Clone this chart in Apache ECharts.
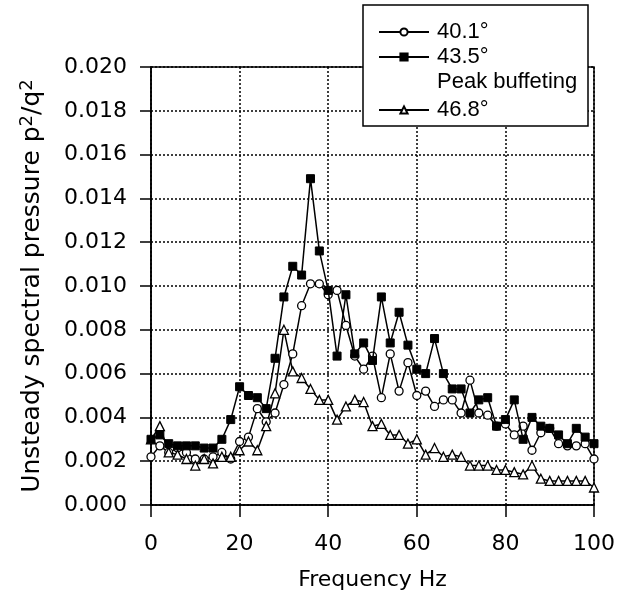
<!DOCTYPE html>
<html>
<head>
<meta charset="utf-8">
<script src="https://cdn.jsdelivr.net/npm/echarts@6/dist/echarts.min.js"></script>
<style>html,body{margin:0;padding:0;background:#fff}#c{width:618px;height:600px}</style>
</head>
<body>
<div id="c"></div>
<script>
var freq = [0,2,4,6,8,10,12,14,16,18,20,22,24,26,28,30,32,34,36,38,40,42,44,46,48,50,52,54,56,58,60,62,64,66,68,70,72,74,76,78,80,82,84,86,88,90,92,94,96,98,100];
var s401 = [0.0022,0.0027,0.0024,0.0026,0.0024,0.0021,0.0021,0.0022,0.0024,0.0021,0.0029,0.0031,0.0044,0.0038,0.0042,0.0055,0.0069,0.0091,0.0101,0.0101,0.0096,0.0098,0.0082,0.0068,0.0062,0.0068,0.0049,0.0069,0.0052,0.0065,0.0050,0.0052,0.0045,0.0048,0.0048,0.0042,0.0057,0.0042,0.0041,0.0036,0.0037,0.0032,0.0036,0.0025,0.0033,0.0035,0.0028,0.0027,0.0027,0.0028,0.0021];
var s435 = [0.0030,0.0032,0.0028,0.0027,0.0027,0.0027,0.0026,0.0026,0.0030,0.0039,0.0054,0.0050,0.0049,0.0044,0.0067,0.0095,0.0109,0.0105,0.0149,0.0116,0.0098,0.0068,0.0096,0.0069,0.0074,0.0066,0.0095,0.0074,0.0088,0.0073,0.0062,0.0060,0.0076,0.0060,0.0053,0.0053,0.0042,0.0048,0.0049,0.0036,0.0039,0.0048,0.0030,0.0040,0.0036,0.0035,0.0032,0.0028,0.0035,0.0031,0.0028];
var s468 = [0.0030,0.0036,0.0024,0.0023,0.0021,0.0018,0.0021,0.0019,0.0022,0.0022,0.0025,0.0029,0.0025,0.0036,0.0051,0.0080,0.0061,0.0058,0.0053,0.0048,0.0048,0.0039,0.0045,0.0048,0.0047,0.0036,0.0037,0.0032,0.0032,0.0028,0.0030,0.0023,0.0026,0.0022,0.0023,0.0022,0.0018,0.0018,0.0018,0.0016,0.0016,0.0015,0.0014,0.0018,0.0012,0.0011,0.0011,0.0011,0.0011,0.0011,0.0008];
var names = ['40.1°', '43.5°', '46.8°'];
var legendNote = 'Peak buffeting';
var xTitle = 'Frequency Hz';
var yTitleMain = 'Unsteady spectral pressure p';

function pairs(vals){ return freq.map(function(f,i){ return [f, vals[i]]; }); }

var chart = echarts.init(document.getElementById('c'), null, {renderer:'canvas'});
var axisFont = 'DejaVu Sans';
var line = {color:'#000', width:1.5};
chart.setOption({
  animation:false,
  backgroundColor:'#fff',
  grid:{left:151, right:22, top:67, bottom:95, show:true, borderColor:'#000', borderWidth:1.5, backgroundColor:'transparent'},
  xAxis:{
    type:'value', min:0, max:100, interval:20,
    axisLine:{show:true, onZero:false, lineStyle:line},
    axisTick:{show:true, inside:false, length:12, lineStyle:line},
    axisLabel:{color:'#000', fontFamily:axisFont, fontSize:22, margin:28},
    splitLine:{show:true, lineStyle:{color:'#000', width:1.5, type:[2,2]}},
    name:xTitle, nameLocation:'middle', nameGap:64,
    nameTextStyle:{color:'#000', fontFamily:axisFont, fontSize:22}
  },
  yAxis:{
    type:'value', min:0, max:0.020, interval:0.002,
    axisLine:{show:true, onZero:false, lineStyle:line},
    axisTick:{show:true, inside:false, length:11, lineStyle:line},
    axisLabel:{color:'#000', fontFamily:axisFont, fontSize:22, margin:24, formatter:function(v){return v.toFixed(3);}},
    splitLine:{show:true, lineStyle:{color:'#000', width:1.5, type:[2,2]}},
    name:'{a|' + yTitleMain + '}{s|2}{a|/q}{s|2}', nameLocation:'middle', nameGap:104,
    nameTextStyle:{color:'#000', fontFamily:axisFont, fontSize:25,
      rich:{a:{fontFamily:axisFont, fontSize:25, color:'#000'}, s:{fontFamily:axisFont, fontSize:18, color:'#000', padding:[0,0,11,0]}}}
  },
  graphic:[
    {type:'rect', z:100, shape:{x:363, y:5, width:225, height:121}, style:{fill:'#fff', stroke:'#000', lineWidth:1.5}},
    {type:'text', z:101, style:{x:437, y:82, text:legendNote, fontFamily:'Liberation Sans', fontSize:22, fill:'#000', verticalAlign:'middle'}}
  ],
  legend:[
    {orient:'vertical', left:373, top:16, z:110, itemWidth:50, itemHeight:9, itemGap:3, data:[names[0], names[1]],
     textStyle:{color:'#000', fontFamily:'Liberation Sans', fontSize:22, lineHeight:22, padding:[0,0,0,3]}, selectedMode:false},
    {orient:'vertical', left:373, top:94, z:110, itemWidth:50, itemHeight:9, data:[names[2]],
     textStyle:{color:'#000', fontFamily:'Liberation Sans', fontSize:22, lineHeight:22, padding:[0,0,0,3]}, selectedMode:false}
  ],
  series:[
    {name:names[0], type:'line', data:pairs(s401), symbol:'circle', symbolSize:8, lineStyle:line,
     itemStyle:{color:'#fff', borderColor:'#000', borderWidth:1.3}, z:3},
    {name:names[1], type:'line', data:pairs(s435), symbol:'rect', symbolSize:8, lineStyle:line,
     itemStyle:{color:'#000', borderColor:'#000', borderWidth:1}, z:4},
    {name:names[2], type:'line', data:pairs(s468), symbol:'triangle', symbolSize:9, lineStyle:line,
     itemStyle:{color:'#fff', borderColor:'#000', borderWidth:1.3}, z:3}
  ]
});
</script>
</body>
</html>
